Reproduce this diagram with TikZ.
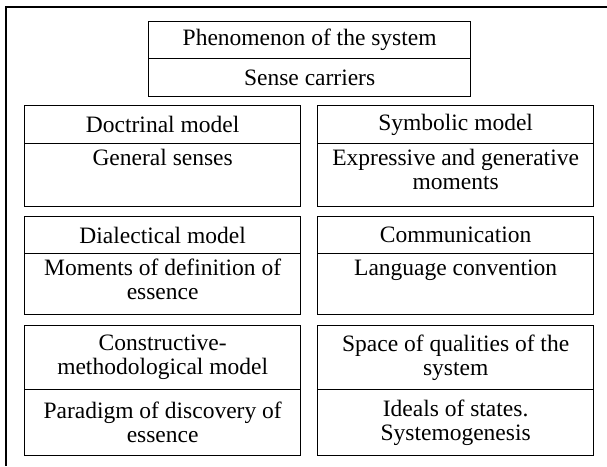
\documentclass[tikz,border=0pt]{standalone}
\usepackage{fontspec}
\setmainfont{Liberation Serif}
\newcommand\cellbox[4]{\parbox[c][#2][#3]{#1}{\centering #4}}
\begin{document}
\begin{tikzpicture}[x=1pt,y=-1pt,
  cell/.style={draw, line width=1.3pt, inner sep=0pt, anchor=north west,
    font=\fontsize{23.5}{24}\selectfont},
  frame/.style={draw, line width=1.3pt}]
\useasboundingbox (0,0) rectangle (607,466);
\draw[frame] (607,7) -- (6,7) -- (6,466);
% top box
\node[cell] (phen) at (148,21) {\cellbox{322pt}{37pt}{c}{Phenomenon of the system}};
\node[cell] (sense) at (148,58) {\cellbox{322pt}{38pt}{c}{Sense carriers}};
% row 1
\node[cell] (doct) at (24,105) {\cellbox{276pt}{38pt}{c}{Doctrinal model}};
\node[cell] (gens) at (24,143) {\cellbox{276pt}{63pt}{t}{\vspace*{5pt}\strut General senses}};
\node[cell] (symb) at (317,105) {\cellbox{276pt}{38pt}{c}{Symbolic model}};
\node[cell] (expr) at (317,143) {\cellbox{276pt}{63pt}{t}{\vspace*{5pt}\strut Expressive and generative\\ moments}};
% row 2
\node[cell] (dial) at (24,216) {\cellbox{276pt}{37pt}{c}{Dialectical model}};
\node[cell] (mom) at (24,253) {\cellbox{276pt}{61pt}{t}{\vspace*{5pt}\strut Moments of definition of\\ essence}};
\node[cell] (comm) at (317,216) {\cellbox{276pt}{37pt}{c}{Communication}};
\node[cell] (lang) at (317,253) {\cellbox{276pt}{61pt}{t}{\vspace*{5pt}\strut Language convention}};
% row 3
\node[cell] (cons) at (24,325) {\cellbox{276pt}{64pt}{c}{Constructive-\\ methodological model}};
\node[cell] (para) at (24,389) {\cellbox{276pt}{66pt}{c}{Paradigm of discovery of\\ essence}};
\node[cell] (space) at (317,325) {\cellbox{276pt}{64pt}{c}{Space of qualities of the\\ system}};
\node[cell] (ideal) at (317,389) {\cellbox{276pt}{66pt}{c}{Ideals of states.\\ Systemogenesis}};
\end{tikzpicture}
\end{document}
